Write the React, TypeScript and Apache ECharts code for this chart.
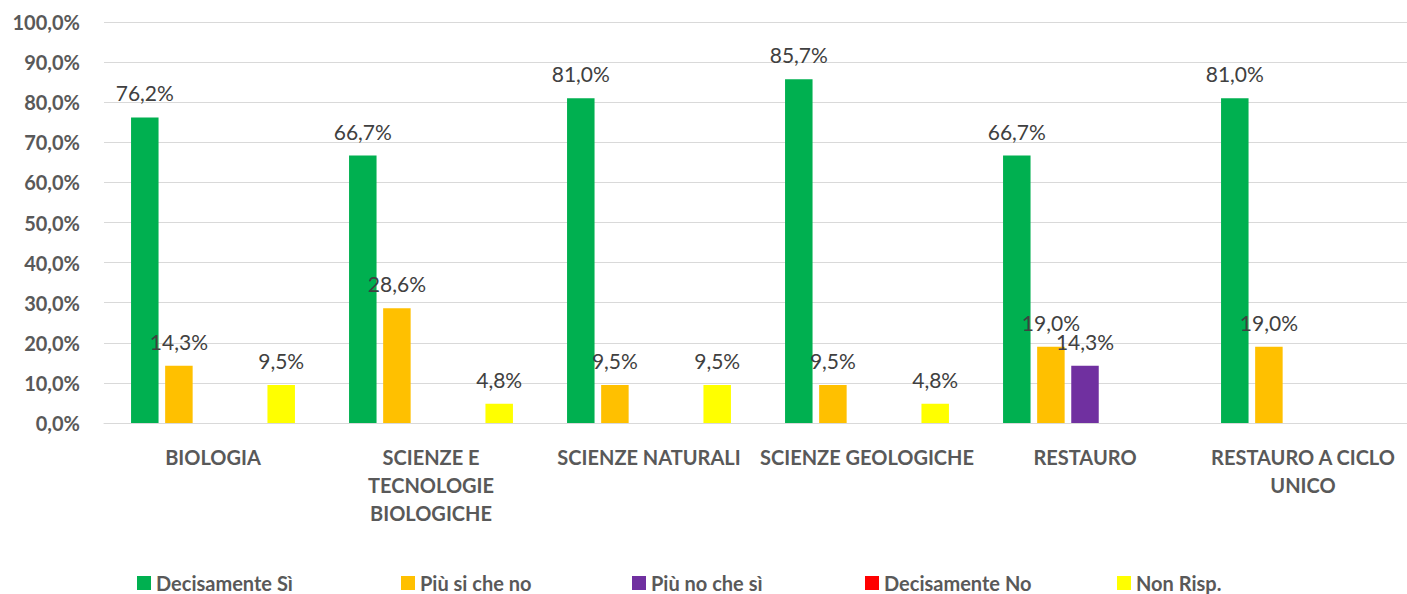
import React, { useEffect, useRef } from "react";
import * as echarts from "echarts";

const categories = [
  "BIOLOGIA",
  "SCIENZE E\nTECNOLOGIE\nBIOLOGICHE",
  "SCIENZE NATURALI",
  "SCIENZE GEOLOGICHE",
  "RESTAURO",
  "RESTAURO A CICLO\nUNICO",
];
const seriesNames = ["Decisamente Sì", "Più si che no", "Più no che sì", "Decisamente No", "Non Risp."];
const decisamenteSi = [76.2, 66.7, 81.0, 85.7, 66.7, 81.0];
const piuSiCheNo = [14.3, 28.6, 9.5, 9.5, 19.0, 19.0];
const piuNoCheSi = [0, 0, 0, 0, 14.3, 0];
const decisamenteNo = [0, 0, 0, 0, 0, 0];
const nonRisp = [9.5, 4.8, 9.5, 4.8, 0, 0];
const colors = ["#00B050", "#FFC000", "#7030A0", "#FF0000", "#FFFF00"];
const legendLefts = [132, 396, 627, 860, 1112];

const FONT = "Lato";

export default function App() {
  const ref = useRef<HTMLDivElement>(null);
  useEffect(() => {
    if (!ref.current) return;
    const chart = echarts.init(ref.current, undefined, { renderer: "svg" });
    const allData = [decisamenteSi, piuSiCheNo, piuNoCheSi, decisamenteNo, nonRisp];
    const fmt = (v: number) => v.toFixed(1).replace(".", ",") + "%";
    chart.setOption({
      animation: false,
      backgroundColor: "#ffffff",
      textStyle: { fontFamily: FONT },
      grid: {
        left: 104,
        right: -5,
        top: 22,
        bottom: 171,
        containLabel: false,
        outerBoundsMode: "none",
      },
      legend: seriesNames.map((n, i) => ({
        data: [n],
        left: legendLefts[i],
        top: 568,
        icon: "rect",
        itemWidth: 14,
        itemHeight: 14,
        textStyle: { fontFamily: FONT, fontSize: 20, fontWeight: "bold", color: "#595959" },
      })),
      xAxis: {
        type: "category",
        data: categories,
        axisLine: { lineStyle: { color: "#d9d9d9", width: 1 } },
        axisTick: { show: false },
        axisLabel: {
          interval: 0,
          margin: 20,
          fontFamily: FONT,
          fontSize: 20,
          fontWeight: "bold",
          color: "#595959",
          lineHeight: 28,
        },
      },
      yAxis: {
        type: "value",
        min: 0,
        max: 100,
        interval: 10,
        axisLine: { show: false },
        axisTick: { show: false },
        splitLine: { lineStyle: { color: "#d9d9d9", width: 1 } },
        axisLabel: {
          formatter: (v: number) => fmt(v),
          margin: 24,
          fontFamily: FONT,
          fontSize: 20,
          fontWeight: "bold",
          color: "#595959",
        },
      },
      series: seriesNames.map((n, i) => ({
        name: n,
        type: "bar",
        data: allData[i],
        barWidth: 27.5,
        barGap: "24%",
        itemStyle: { color: colors[i] },
        label: {
          show: true,
          position: "top",
          distance: 14,
          fontFamily: FONT,
          fontSize: 21,
          color: "#404040",
          formatter: (p: any) => (p.value ? fmt(p.value) : ""),
        },
      })),
    });
    return () => chart.dispose();
  }, []);
  return (
    <div
      ref={ref}
      style={{ position: "absolute", left: 0, top: 0, width: 1407, height: 594 }}
    />
  );
}
